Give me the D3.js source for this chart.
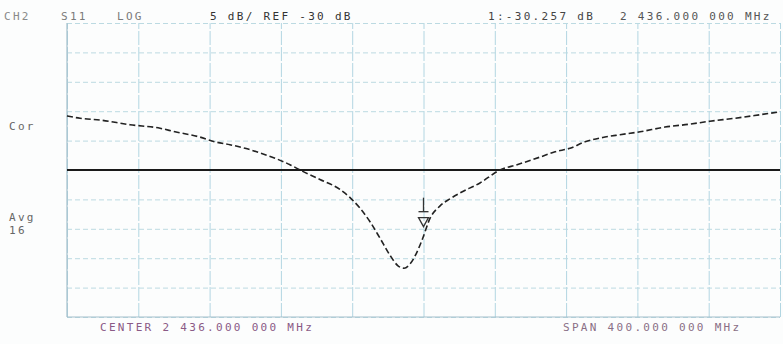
<!DOCTYPE html>
<html lang="en">
<head>
  <meta charset="UTF-8">
  <title>CH2 S11 LOG</title>
  <style>
    body { margin: 0; background: #fcfdfd; }
    svg { display: block; }
    .lbl { font-family: "DejaVu Sans Mono", monospace; font-size: 11px; letter-spacing: 2.3px; }
    .grid line { stroke: #b2d6e2; stroke-width: 1; }
    .grid path { display: none; }
    .grid text { display: none; }
  </style>
  <script src="https://d3js.org/d3.v7.min.js"></script>
</head>
<body>
  <svg width="783" height="344"></svg>

  <script>
    // trace (frequency in MHz, level in dB)
    var freqMHz = [2236, 2243.3, 2254.5, 2271.3, 2288.2, 2296.6, 2310.6, 2319.0, 2327.4, 2335.9,
                   2344.3, 2352.7, 2361.1, 2366.7, 2377.9, 2389.1, 2394.8, 2400.4, 2406.0, 2411.6,
                   2417.2, 2421.7, 2425.1, 2428.4, 2431.8, 2435.2, 2439.7, 2445.3, 2450.9, 2456.5,
                   2467.7, 2478.9, 2488.5, 2501.4, 2509.8, 2518.2, 2526.6, 2537.8, 2546.2, 2557.5,
                   2571.5, 2585.5, 2596.7, 2610.8, 2624.8, 2636.0];
    var s11dB = [-20.8, -21.2, -21.5, -22.3, -22.9, -23.5, -24.4, -25.2, -25.7, -26.3,
                 -27.1, -28.0, -29.1, -30.0, -31.6, -33.3, -34.7, -36.5, -38.8, -41.6,
                 -44.5, -46.3, -46.7, -46.0, -44.3, -41.9, -38.2, -36.1, -34.9, -33.9,
                 -32.2, -30.0, -29.1, -27.8, -26.9, -26.3, -25.2, -24.4, -24.0, -23.5,
                 -22.7, -22.2, -21.7, -21.2, -20.6, -20.1];

    var xGrid = d3.range(0, 11).map(function(i) { return 2236 + i * 40; });
    var yGrid = d3.range(0, 11).map(function(i) { return -55 + i * 5; });
    var refLevel = -30;
    var markerFreq = 2436;
    var markerDb = -41.0;

    var headerLeft = ["CH2", "S11", "LOG"];
    var headerScale = "5 dB/ REF  -30 dB";
    var markerText = ["1:-30.257 dB", "2 436.000 000 MHz"];
    var footer = ["CENTER 2 436.000 000 MHz", "SPAN 400.000 000 MHz"];
    var sideNotes = ["Cor", "Avg", "16"];

    var svg = d3.select("svg");
    var plotL = 67, plotR = 780, plotT = 23, plotB = 317;

    var x = d3.scaleLinear().domain([2236, 2636]).range([plotL, plotR]);
    var y = d3.scaleLinear().domain([-55, -5]).range([plotB, plotT]);

    // griglia verticale
    svg.append("g").attr("class", "grid")
      .attr("transform", "translate(0," + plotB + ")")
      .call(d3.axisBottom(x).tickValues(xGrid).tickSize(-(plotB - plotT)))
      .selectAll("line").attr("stroke-dasharray", "14,2");

    // griglia orizzontale
    svg.append("g").attr("class", "grid")
      .attr("transform", "translate(" + plotL + ",0)")
      .call(d3.axisLeft(y).tickValues(yGrid).tickSize(-(plotR - plotL)))
      .selectAll("line").attr("stroke-dasharray", "5,3").style("stroke", "#bcdae2");

    // bordo sinistro e inferiore un po' piu' scuri
    svg.append("line").attr("x1", plotL).attr("x2", plotL).attr("y1", plotT).attr("y2", plotB)
      .attr("stroke", "#a4c0cc").attr("stroke-width", 1.2);
    svg.append("line").attr("x1", plotL).attr("x2", plotR).attr("y1", plotB).attr("y2", plotB)
      .attr("stroke", "#a4c0cc").attr("stroke-width", 1.2);

    // linea di riferimento
    svg.append("line")
      .attr("x1", plotL).attr("x2", plotR)
      .attr("y1", y(refLevel)).attr("y2", y(refLevel))
      .attr("stroke", "#1a1a1a").attr("stroke-width", 2.2);

    // traccia
    var line = d3.line().x(function(d) { return x(d[0]); }).y(function(d) { return y(d[1]); })
      .curve(d3.curveMonotoneX);
    svg.append("path")
      .datum(d3.zip(freqMHz, s11dB))
      .attr("d", line)
      .attr("fill", "none")
      .attr("stroke", "#222")
      .attr("stroke-width", 1.6)
      .attr("stroke-dasharray", "6,3");

    // marker
    var mx = x(markerFreq), my = y(markerDb);
    svg.append("path")
      .attr("d", "M" + (mx - 5) + "," + (my - 17) + " L" + (mx + 5) + "," + (my - 17) + " L" + mx + "," + (my - 8) + " Z")
      .attr("fill", "none").attr("stroke", "#333").attr("stroke-width", 1.3);
    svg.append("line").attr("x1", mx).attr("x2", mx).attr("y1", my - 37).attr("y2", my - 23)
      .attr("stroke", "#333").attr("stroke-width", 1.3);
    svg.append("line").attr("x1", mx - 5).attr("x2", mx + 5).attr("y1", my - 23).attr("y2", my - 23)
      .attr("stroke", "#333").attr("stroke-width", 1.3);

    // testi
    svg.append("text").attr("class", "lbl").attr("x", 4).attr("y", 20).attr("fill", "#8a8a8a").text(headerLeft[0]);
    svg.append("text").attr("class", "lbl").attr("x", 61).attr("y", 20).attr("fill", "#7a7a7a").text(headerLeft[1]);
    svg.append("text").attr("class", "lbl").attr("x", 117).attr("y", 20).attr("fill", "#7a7a7a").text(headerLeft[2]);
    svg.append("text").attr("class", "lbl").attr("x", 210).attr("y", 20).attr("fill", "#333").text(headerScale);
    svg.append("text").attr("class", "lbl").attr("x", 488).attr("y", 20).attr("fill", "#444").text(markerText[0]);
    svg.append("text").attr("class", "lbl").attr("x", 620).attr("y", 20).attr("fill", "#555").text(markerText[1]);

    svg.append("text").attr("class", "lbl").attr("x", 9).attr("y", 130).attr("fill", "#666").text(sideNotes[0]);
    svg.append("text").attr("class", "lbl").attr("x", 9).attr("y", 221).attr("fill", "#666").text(sideNotes[1]);
    svg.append("text").attr("class", "lbl").attr("x", 9).attr("y", 234).attr("fill", "#666").text(sideNotes[2]);

    svg.append("text").attr("class", "lbl").attr("x", 100).attr("y", 331).attr("fill", "#8a5a86").text(footer[0]);
    svg.append("text").attr("class", "lbl").attr("x", 563).attr("y", 331).attr("fill", "#8a6f86").text(footer[1]);
  </script>
</body>
</html>
